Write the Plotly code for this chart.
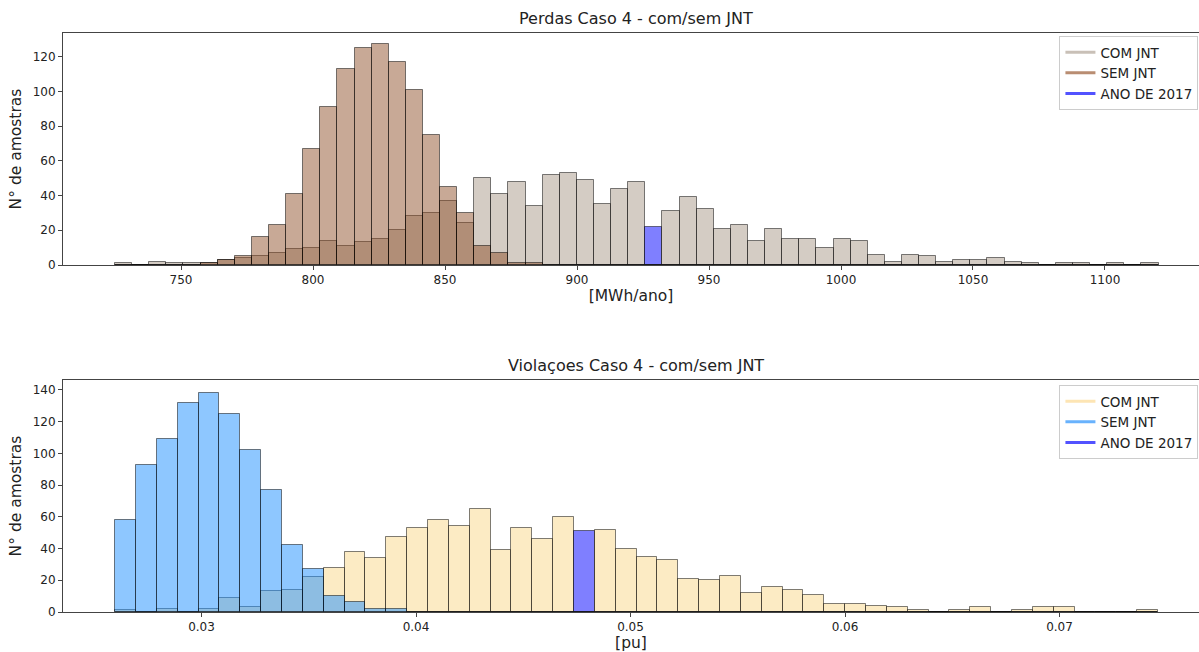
import plotly.graph_objects as go

# ---------------- Data: Perdas (top panel) ----------------
perdas_bin_start = 725.0
perdas_bin_width = 6.48
perdas_com_jnt = [1, 0, 2, 1, 1, 1, 3, 4, 5, 7,
                  9, 10, 14, 11, 13, 15, 20, 28, 30, 37,
                  24, 50, 41, 48, 34, 52, 53, 49, 35, 44,
                  48, 22, 31, 39, 32, 21, 23, 14, 21, 15,
                  15, 10, 15, 14, 6, 2, 6, 5, 2, 3,
                  3, 4, 2, 1, 0, 1, 1, 0, 1, 0,
                  1]
perdas_sem_jnt = [0, 0, 0, 0, 0, 1, 3, 5, 16, 23,
                  41, 67, 91, 113, 125, 127, 117, 101, 75, 45,
                  30, 11, 7, 1, 1, 0, 0, 0, 0, 0,
                  0, 0, 0, 0, 0, 0, 0, 0, 0, 0,
                  0, 0, 0, 0, 0, 0, 0, 0, 0, 0,
                  0, 0, 0, 0, 0, 0, 0, 0, 0, 0,
                  0]
perdas_ano_2017 = 929.0
perdas_xticks = [750, 800, 850, 900, 950, 1000, 1050, 1100]
perdas_yticks = [0, 20, 40, 60, 80, 100, 120]

# ---------------- Data: Violações (bottom panel) ----------------
viol_bin_start = 0.02597
viol_bin_width = 0.0009725
viol_com_jnt = [1, 0, 2, 0, 2, 9, 3, 13, 14, 22,
                28, 38, 34, 47, 53, 58, 54, 65, 39, 53,
                46, 60, 51, 52, 40, 35, 33, 21, 20, 23,
                12, 16, 14, 11, 5, 5, 4, 3, 1, 0,
                1, 3, 0, 1, 3, 3, 0, 0, 0, 1]
viol_sem_jnt = [58, 93, 109, 132, 138, 125, 102, 77, 42, 27,
                10, 6, 2, 2, 0, 0, 0, 0, 0, 0,
                0, 0, 0, 0, 0, 0, 0, 0, 0, 0,
                0, 0, 0, 0, 0, 0, 0, 0, 0, 0,
                0, 0, 0, 0, 0, 0, 0, 0, 0, 0]
viol_ano_2017 = 0.0478
viol_xticks = [0.03, 0.04, 0.05, 0.06, 0.07]
viol_yticks = [0, 20, 40, 60, 80, 100, 120, 140]

# ---------------- Styles ----------------
FONT = "DejaVu Sans"
TXT = "#222222"
SPINE = "#444444"
EDGE = "rgba(0,0,0,0.5)"
HIGHLIGHT = "rgba(0,0,255,0.5)"

top_com_fill = "rgba(169,153,137,0.5)"
top_sem_fill = "rgba(139,75,35,0.48)"
bot_com_fill = "rgba(249,216,137,0.5)"
bot_sem_fill = "rgba(30,144,255,0.5)"

top_leg = {"COM JNT": "#c9c0b7", "SEM JNT": "#b98d72", "ANO DE 2017": "#5252ff"}
bot_leg = {"COM JNT": "#fde5b4", "SEM JNT": "#68b2fd", "ANO DE 2017": "#5252ff"}


def centers(start, width, n):
    return [start + (i + 0.5) * width for i in range(n)]


def colors_with_highlight(n, base, start, width, value):
    idx = int((value - start) // width)
    return [HIGHLIGHT if i == idx else base for i in range(n)]


fig = go.Figure()

# ---- top panel bars ----
px_top = centers(perdas_bin_start, perdas_bin_width, len(perdas_com_jnt))
fig.add_trace(go.Bar(
    x=px_top, y=perdas_com_jnt, width=perdas_bin_width,
    marker=dict(color=colors_with_highlight(len(perdas_com_jnt), top_com_fill,
                                            perdas_bin_start, perdas_bin_width, perdas_ano_2017),
                line=dict(color=EDGE, width=1)),
    showlegend=False, xaxis="x", yaxis="y"))
fig.add_trace(go.Bar(
    x=px_top, y=perdas_sem_jnt, width=perdas_bin_width,
    marker=dict(color=top_sem_fill, line=dict(color=EDGE, width=1)),
    showlegend=False, xaxis="x", yaxis="y"))

# ---- bottom panel bars ----
px_bot = centers(viol_bin_start, viol_bin_width, len(viol_com_jnt))
fig.add_trace(go.Bar(
    x=px_bot, y=viol_com_jnt, width=viol_bin_width,
    marker=dict(color=colors_with_highlight(len(viol_com_jnt), bot_com_fill,
                                            viol_bin_start, viol_bin_width, viol_ano_2017),
                line=dict(color=EDGE, width=1)),
    showlegend=False, xaxis="x2", yaxis="y2"))
fig.add_trace(go.Bar(
    x=px_bot, y=viol_sem_jnt, width=viol_bin_width,
    marker=dict(color=bot_sem_fill, line=dict(color=EDGE, width=1)),
    showlegend=False, xaxis="x2", yaxis="y2"))

# ---- legend entries (line handles) ----
for name, col in top_leg.items():
    fig.add_trace(go.Scatter(x=[None], y=[None], mode="lines", name=name,
                             line=dict(color=col, width=3),
                             xaxis="x", yaxis="y", legend="legend"))
for name, col in bot_leg.items():
    fig.add_trace(go.Scatter(x=[None], y=[None], mode="lines", name=name,
                             line=dict(color=col, width=3),
                             xaxis="x2", yaxis="y2", legend="legend2"))

axis_common = dict(showgrid=False, zeroline=False, showline=True, linecolor=SPINE,
                   linewidth=1, ticks="outside", ticklen=4, tickcolor=SPINE, tickwidth=1,
                   tickfont=dict(family=FONT, size=12, color=TXT))

LABEL_FONT = dict(family=FONT, size=15.5, color=TXT)

L, R, T, B = 63, 0, 33, 40
H = 652
plot_h = H - T - B
top_dom = [(612 - 265) / plot_h, 1.0]
bot_dom = [0.0, (612 - 380) / plot_h]

fig.update_layout(
    width=1199, height=652,
    margin=dict(l=L, r=R, t=T, b=B, autoexpand=False),
    paper_bgcolor="white", plot_bgcolor="white",
    barmode="overlay", bargap=0,
    font=dict(family=FONT, color=TXT),
    xaxis=dict(axis_common, domain=[0, 1], anchor="y", range=[705.30, 1135.61],
               tickvals=perdas_xticks, mirror=True,
               title=dict(text="[MWh/ano]", font=LABEL_FONT, standoff=3)),
    yaxis=dict(axis_common, domain=top_dom, anchor="x", range=[0, 133.6],
               tickvals=perdas_yticks,
               title=dict(text="N° de amostras", font=LABEL_FONT, standoff=7)),
    xaxis2=dict(axis_common, domain=[0, 1], anchor="y2", range=[0.023543, 0.076503],
                tickvals=viol_xticks, mirror=True,
                title=dict(text="[pu]", font=LABEL_FONT, standoff=3)),
    yaxis2=dict(axis_common, domain=bot_dom, anchor="x2", range=[0, 146.3],
                tickvals=viol_yticks,
                title=dict(text="N° de amostras", font=LABEL_FONT, standoff=7)),
    legend=dict(x=0.9995, xanchor="right", y=(612 - 36) / plot_h, yanchor="top",
                bgcolor="white", bordercolor="#cccccc", borderwidth=1,
                font=dict(family=FONT, size=13.5, color=TXT)),
    legend2=dict(x=0.9995, xanchor="right", y=(612 - 385) / plot_h, yanchor="top",
                 bgcolor="white", bordercolor="#cccccc", borderwidth=1,
                 font=dict(family=FONT, size=13.5, color=TXT)),
    annotations=[
        dict(text="Perdas Caso 4 - com/sem JNT", xref="x domain", yref="y domain",
             x=0.5044, y=1, xanchor="center", yanchor="bottom", yshift=3, showarrow=False,
             font=dict(family=FONT, size=16, color=TXT)),
        dict(text="Violaçoes Caso 4 - com/sem JNT", xref="x2 domain", yref="y2 domain",
             x=0.5044, y=1, xanchor="center", yanchor="bottom", yshift=3, showarrow=False,
             font=dict(family=FONT, size=16, color=TXT)),
    ],
)

fig.write_html("out.html")
